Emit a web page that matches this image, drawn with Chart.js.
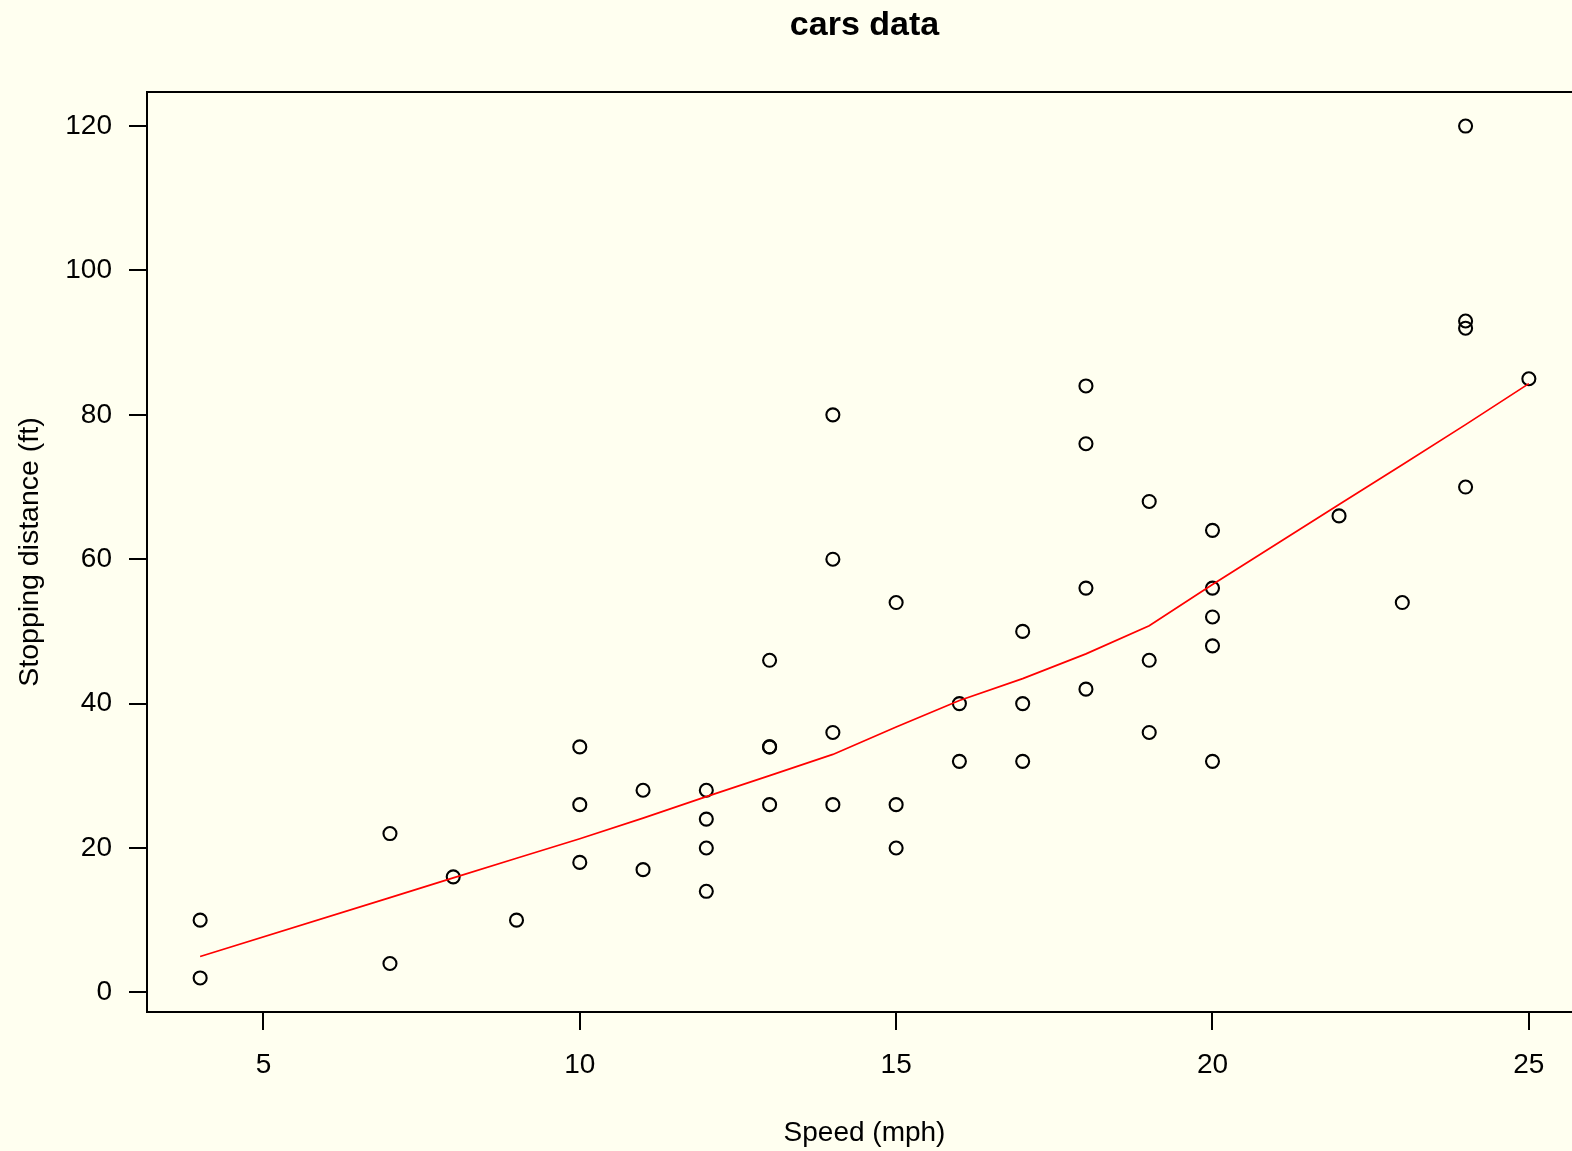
<!DOCTYPE html>
<html>
<head>
<meta charset="utf-8">
<title>cars data</title>
<script src="https://cdn.jsdelivr.net/npm/chart.js@4/dist/chart.umd.min.js"></script>
<style>
  html, body { margin: 0; padding: 0; background: #FFFFF0; overflow: hidden; }
  #wrap { position: relative; width: 1582px; height: 1151px; }
  canvas { display: block; }
</style>
</head>
<body>
<div id="wrap">
<canvas id="c"></canvas>
</div>
<script>
// cars dataset: speed (mph) and stopping distance (ft)
const speed = [4, 4, 7, 7, 8, 9, 10, 10, 10, 11, 11, 12, 12, 12, 12, 13, 13, 13, 13, 14,
               14, 14, 14, 15, 15, 15, 16, 16, 17, 17, 17, 18, 18, 18, 18, 19, 19, 19, 20, 20,
               20, 20, 20, 22, 23, 24, 24, 24, 24, 25];
const dist  = [2, 10, 4, 22, 16, 10, 18, 26, 34, 17, 28, 14, 20, 24, 28, 26, 34, 34, 46, 26,
               36, 60, 80, 20, 26, 54, 32, 40, 32, 40, 50, 42, 56, 76, 84, 36, 46, 68, 32, 48,
               52, 56, 64, 66, 54, 70, 92, 93, 120, 85];

// lowess smooth of dist on speed
const smoothX = [4, 7, 8, 9, 10, 11, 12, 13, 14, 15, 16, 17, 18, 19, 20, 22, 23, 24, 25];
const smoothY = [4.965459, 13.124495, 15.858633, 18.579691, 21.280313, 24.129277, 27.119549,
                 30.027276, 32.962506, 36.757728, 40.435075, 43.463492, 46.885479, 50.793152,
                 56.491224, 67.585824, 73.079695, 78.643164, 84.328698];

// axis ticks and labels
const xTicks = [5, 10, 15, 20, 25];
const xTickLabels = ['5', '10', '15', '20', '25'];
const yTicks = [0, 20, 40, 60, 80, 100, 120];
const yTickLabels = ['0', '20', '40', '60', '80', '100', '120'];

const FONT = '"Liberation Sans", Arial, Helvetica, sans-serif';
const BG = '#FFFFF0';

const frame = {
  id: 'frame',
  beforeDraw(chart) {
    const ctx = chart.ctx;
    ctx.save();
    ctx.fillStyle = BG;
    ctx.fillRect(0, 0, chart.width, chart.height);
    ctx.restore();
  },
  afterDraw(chart) {
    const ctx = chart.ctx;
    const a = chart.chartArea;
    const midX = (a.left + a.right) / 2;
    ctx.save();
    ctx.strokeStyle = '#000';
    ctx.lineWidth = 2;
    ctx.strokeRect(a.left, a.top, a.right - a.left, a.bottom - a.top);

    ctx.fillStyle = '#000';
    ctx.textAlign = 'center';
    ctx.textBaseline = 'alphabetic';
    ctx.font = 'bold 34px ' + FONT;
    ctx.fillText('cars data', midX, 35);

    ctx.font = '28px ' + FONT;
    ctx.fillText('Speed (mph)', midX, 1141);

    ctx.translate(38, (a.top + a.bottom) / 2);
    ctx.rotate(-Math.PI / 2);
    ctx.font = '28.5px ' + FONT;
    ctx.fillText('Stopping distance (ft)', 0, 0);
    ctx.restore();
  }
};

const tickFont = { family: FONT, size: 28 };

new Chart(document.getElementById('c'), {
  type: 'scatter',
  data: {
    datasets: [
      {
        label: 'lowess',
        type: 'line',
        data: smoothX.map((x, i) => ({ x, y: smoothY[i] })),
        borderColor: '#FF0000',
        borderWidth: 1.7,
        pointRadius: 0,
        fill: false,
        tension: 0
      },
      {
        label: 'dist',
        data: speed.map((x, i) => ({ x, y: dist[i] })),
        showLine: false,
        pointStyle: 'circle',
        pointRadius: 6.5,
        pointHoverRadius: 6.5,
        pointBorderWidth: 2.1,
        pointBorderColor: '#000',
        pointBackgroundColor: 'rgba(0,0,0,0)'
      }
    ]
  },
  options: {
    responsive: true,
    maintainAspectRatio: false,
    animation: false,
    devicePixelRatio: 1,
    layout: { autoPadding: false, padding: { top: 92, left: 0, right: 0, bottom: 0 } },
    plugins: {
      legend: { display: false },
      tooltip: { enabled: false },
      title: { display: false }
    },
    scales: {
      x: {
        type: 'linear',
        min: 3.16,
        max: 25.84,
        afterBuildTicks(axis) { axis.ticks = xTicks.map(v => ({ value: v })); },
        afterFit(axis) { axis.height = 139; axis.paddingLeft = 0; axis.paddingRight = 0; },
        ticks: {
          callback: (v, i) => xTickLabels[i],
          font: tickFont,
          color: '#000',
          padding: 18,
          maxRotation: 0,
          autoSkip: false
        },
        grid: { drawOnChartArea: false, drawTicks: true, tickLength: 18, color: '#000', lineWidth: 2 },
        border: { display: false }
      },
      y: {
        type: 'linear',
        min: -2.72,
        max: 124.72,
        afterBuildTicks(axis) { axis.ticks = yTicks.map(v => ({ value: v })); },
        afterFit(axis) { axis.width = 147; axis.paddingTop = 0; axis.paddingBottom = 0; },
        ticks: {
          callback: (v, i) => yTickLabels[i],
          font: tickFont,
          color: '#000',
          padding: 17,
          autoSkip: false
        },
        grid: { drawOnChartArea: false, drawTicks: true, tickLength: 18, color: '#000', lineWidth: 2 },
        border: { display: false }
      }
    }
  },
  plugins: [frame]
});
</script>
</body>
</html>
